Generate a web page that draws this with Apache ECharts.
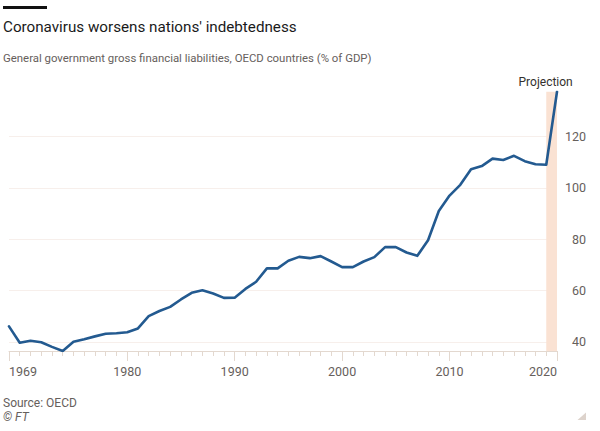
<!DOCTYPE html>
<html>
<head>
<meta charset="utf-8">
<script src="https://cdn.jsdelivr.net/npm/echarts@6/dist/echarts.min.js"></script>
<style>
html,body{margin:0;padding:0;background:#fff;}
#c{width:600px;height:431px;}
</style>
</head>
<body>
<div id="c"></div>
<script>
var years = [];
for (var y = 1969; y <= 2020; y++) years.push(String(y));
var debtPct = [
  46, 39.6, 40.4, 39.8, 38, 36.4, 40, 41, 42.1, 43.1,
  43.3, 43.7, 45.2, 50, 52, 53.6, 56.5, 59.1, 60.1, 58.8,
  57.1, 57.2, 60.6, 63.4, 68.6, 68.6, 71.6, 73.1, 72.6, 73.4,
  71.3, 69.1, 69.1, 71.3, 73, 76.9, 76.9, 74.8, 73.5, 79.6,
  91, 97, 101.2, 107.3, 108.5, 111.4, 110.9, 112.5, 110.4, 109.2,
  109, 137.5
];
var labelYears = ['1969', '1980', '1990', '2000', '2010', '2020'];
var projection = ['2019', '2020'];
var titleText = "Coronavirus worsens nations' indebtedness";
var subtitleText = 'General government gross financial liabilities, OECD countries (% of GDP)';
var sourceText = 'Source: OECD';
var creditText = '\u00A9 FT';
var bandLabel = 'Projection';

var FONT = 'Roboto, "Noto Sans", sans-serif';
var axisCol = '#e3d8cf';
var gridCol = '#f7efeb';
var labelCol = '#66605c';

var chart = echarts.init(document.getElementById('c'), null, {renderer: 'svg'});
function isLabelYear(i, v) { return labelYears.indexOf(v) >= 0; }

chart.setOption({
  animation: false,
  backgroundColor: '#ffffff',
  grid: {left: 9, right: 43, top: 91.7, bottom: 80, containLabel: false},
  xAxis: [{
    type: 'category', data: years, boundaryGap: false, position: 'bottom',
    axisLine: {show: true, lineStyle: {color: axisCol, width: 1}},
    axisTick: {show: true, interval: 0, length: 5, lineStyle: {color: axisCol}},
    axisLabel: {show: false},
    splitLine: {show: false}
  }, {
    type: 'category', data: years, boundaryGap: false, position: 'bottom',
    axisLine: {show: false},
    axisTick: {show: true, interval: isLabelYear, length: 10, lineStyle: {color: axisCol}},
    axisLabel: {show: true, interval: isLabelYear, margin: 14, color: labelCol,
      fontFamily: FONT, fontSize: 12.5, alignMinLabel: 'left', alignMaxLabel: 'right'},
    splitLine: {show: false}
  }],
  yAxis: {
    type: 'value', position: 'right', min: 36.4, max: 137.5, splitNumber: 5,
    axisLine: {show: false}, axisTick: {show: false},
    axisLabel: {show: true, showMinLabel: false, showMaxLabel: false, align: 'right', margin: 29,
      color: labelCol, fontFamily: FONT, fontSize: 12.5},
    splitLine: {show: true, lineStyle: {width: 1,
      color: ['rgba(0,0,0,0)', gridCol, gridCol, gridCol, gridCol, gridCol, 'rgba(0,0,0,0)']}}
  },
  series: [{
    type: 'line', data: [], z: 1, silent: true,
    markArea: {
      silent: true,
      itemStyle: {color: '#fae2d3'},
      label: {show: true, position: 'top', distance: 4, offset: [-6, 0], color: '#33302e',
        fontFamily: FONT, fontSize: 12},
      data: [[{xAxis: projection[0], name: bandLabel}, {xAxis: projection[1]}]]
    }
  }, {
    type: 'line', data: debtPct, z: 3, symbol: 'none', smooth: false,
    lineStyle: {color: '#235a90', width: 2.6, join: 'round', cap: 'round'}
  }],
  graphic: [
    {type: 'rect', shape: {x: 3, y: 6, width: 44, height: 3}, style: {fill: '#111111'}},
    {type: 'text', x: 3, y: 27, style: {text: titleText, font: '15.2px ' + FONT, fill: '#1a1a1a', textVerticalAlign: 'middle'}},
    {type: 'text', x: 3, y: 58, style: {text: subtitleText, font: '11.4px ' + FONT, fill: '#66605c', textVerticalAlign: 'middle'}},
    {type: 'text', x: 3, y: 403, style: {text: sourceText, font: '12px ' + FONT, fill: '#66605c', textVerticalAlign: 'middle'}},
    {type: 'text', x: 3, y: 417, style: {text: creditText, font: 'italic 12px ' + FONT, fill: '#66605c', textVerticalAlign: 'middle'}},
    {type: 'polygon', shape: {points: [[577.5, 420], [586, 420], [586, 412.5]]}, style: {fill: '#ddd3cc'}}
  ]
});
</script>
</body>
</html>
